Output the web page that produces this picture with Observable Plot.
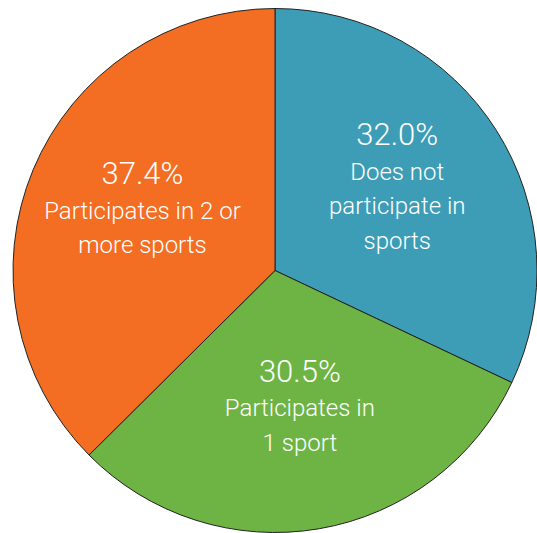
<!DOCTYPE html>
<html>
<head>
<meta charset="utf-8">
<script src="https://cdn.jsdelivr.net/npm/d3@7"></script>
<script src="https://cdn.jsdelivr.net/npm/@observablehq/plot@0.6"></script>
<style>
  html, body { margin: 0; padding: 0; background: #fff; }
  #chart svg { display: block; }
</style>
</head>
<body>
<div id="chart"></div>
<script>
// Data
const categories = ["Does not participate in sports", "Participates in 1 sport", "Participates in 2 or more sports"];
const values = [32.0, 30.5, 37.4];
const percentLabels = ["32.0%", "30.5%", "37.4%"];
const labelLines = [
  ["Does not", "participate in", "sports"],
  ["Participates in", "1 sport"],
  ["Participates in 2 or", "more sports"]
];
const colors = ["#3d9db6", "#6db444", "#f36d22"];

// Layout constants
const W = 537, H = 533;
const R = 262;              // pie radius in px
const CX = 275, CY = 270.5; // pie center in px
const LABEL_R = 0.55;       // label radius as fraction of pie radius
const LINE_H = 34.5;        // px between text baselines

const color = d3.scaleOrdinal(categories, colors);
const arcs = d3.pie().sort(null).value(d => d)(values);

// text rows, positioned from slice centroids (data units: radius = 1)
const rows = [];
arcs.forEach((a, i) => {
  const mid = (a.startAngle + a.endAngle) / 2;
  const cx = LABEL_R * Math.sin(mid);
  const cy = LABEL_R * Math.cos(mid);
  const lines = [{text: percentLabels[i], size: 31}].concat(labelLines[i].map(t => ({text: t, size: 24})));
  const n = lines.length;
  lines.forEach((l, j) => {
    const offPx = (j - (n - 1) / 2) * LINE_H + 3;
    rows.push({x: cx, y: cy - offPx / R, text: l.text, size: l.size});
  });
});

const pieMark = (index, scales) => {
  const x = scales.x, y = scales.y;
  const cx = x(0), cy = y(0), r = x(1) - x(0);
  const arc = d3.arc().innerRadius(0).outerRadius(r);
  const g = d3.create("svg:g").attr("transform", `translate(${cx},${cy})`);
  g.selectAll("path").data(arcs).join("path")
    .attr("d", arc)
    .attr("fill", d => color(categories[d.index]))
    .attr("stroke", "#222")
    .attr("stroke-width", 1)
    .attr("stroke-linejoin", "round");
  return g.node();
};

const chart = Plot.plot({
  width: W,
  height: H,
  margin: 0,
  style: {fontFamily: "Roboto, sans-serif", background: "#fff"},
  x: {domain: [-CX / R, (W - CX) / R], range: [0, W], axis: null},
  y: {domain: [-(H - CY) / R, CY / R], range: [H, 0], axis: null},
  marks: [
    pieMark,
    Plot.text(rows, {
      x: "x", y: "y", text: "text", fontSize: "size",
      fill: "white", textAnchor: "middle", lineAnchor: "bottom",
      fontWeight: 300
    })
  ]
});
document.getElementById("chart").appendChild(chart);
</script>
</body>
</html>
